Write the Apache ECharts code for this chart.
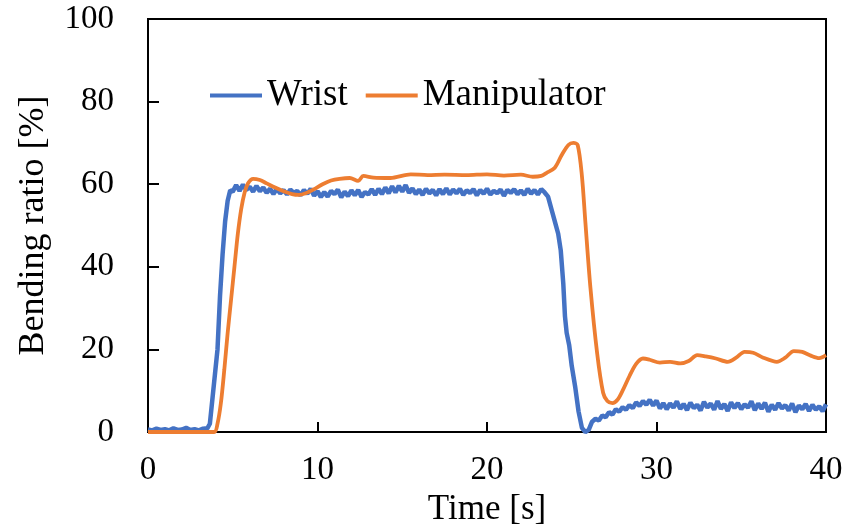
<!DOCTYPE html>
<html><head><meta charset="utf-8">
<script src="https://cdn.jsdelivr.net/npm/echarts@6/dist/echarts.min.js"></script>
<style>html,body{margin:0;padding:0;background:#fff}#c{width:853px;height:525px}</style>
</head><body><div id="c"></div>
<script>
const seriesNames = ['Wrist', 'Manipulator'];
const xTicks = [0, 10, 20, 30, 40];
const yTicks = [0, 20, 40, 60, 80, 100];

const wristTime = [0,0.25,0.5,0.75,1,1.25,1.5,1.75,2,2.25,2.5,2.75,3,3.25,3.5,3.65,3.8,3.95,4.1,4.25,4.4,4.55,4.7,4.85,
5,5.2,5.4,5.6,5.8,6,6.2,6.4,6.6,6.8,7,7.2,7.4,7.6,7.8,8,8.2,8.4,8.6,8.8,9,9.2,9.4,9.6,9.8,10,10.2,10.4,10.6,10.8,11,11.2,11.4,11.6,11.8,12,12.2,12.4,12.6,12.8,13,13.2,13.4,13.6,13.8,14,14.2,14.4,14.6,14.8,15,15.2,15.4,15.6,15.8,16,16.2,16.4,16.6,16.8,17,17.2,17.4,17.6,17.8,18,18.2,18.4,18.6,18.8,19,19.2,19.4,19.6,19.8,20,20.2,20.4,20.6,20.8,21,21.2,21.4,21.6,21.8,22,22.2,22.4,22.6,22.8,23,23.2,23.4,
23.6,23.8,24,24.2,24.35,24.5,24.6,24.7,24.85,25,25.2,25.4,25.6,25.8,26,26.2,26.4,26.6,26.8,27,27.2,27.4,27.6,27.8,28,28.2,28.4,28.6,28.8,29,29.2,29.4,29.6,29.8,30,30.2,30.4,30.6,30.8,31,31.2,31.4,31.6,31.8,32,32.2,32.4,32.6,32.8,33,33.2,33.4,33.6,33.8,34,34.2,34.4,34.6,34.8,35,35.2,35.4,35.6,35.8,36,36.2,36.4,36.6,36.8,37,37.2,37.4,37.6,37.8,38,38.2,38.4,38.6,38.8,39,39.2,39.4,39.6,39.8,40];
const wristValue = [0.6,0.4,0.8,0.5,0.7,0.4,0.9,0.5,0.6,1.0,0.5,0.7,0.4,0.8,0.9,2,8,14,20,33,43,51,56,58.5,
58.2,59.8,58.4,59.9,58.6,59.4,58.2,59.6,58.3,59.2,57.9,58.9,57.6,58.9,57.8,58.6,57.5,58.7,57.9,58.4,57.3,58.6,57.7,58.9,57.2,58.3,56.9,58.1,57.0,58.4,57.6,58.7,56.8,58.2,57.1,58.5,57.3,58.6,56.9,58.1,57.5,58.8,57.4,58.9,57.6,59.2,57.8,59.5,58.0,59.6,58.2,59.8,57.9,59.0,57.6,58.7,57.4,58.9,57.8,58.6,57.3,58.8,57.6,59.0,57.5,58.7,57.8,58.9,57.4,58.5,57.9,58.8,57.3,58.6,57.7,58.9,57.5,58.4,57.8,58.7,57.2,58.6,57.9,58.8,57.6,58.5,57.4,58.9,57.7,58.6,57.5,58.8,58.0,
57,54,51,48,44,36,28,24,21,16,11,5,1,0,0.5,2.5,3.2,2.8,4.0,3.6,4.8,4.2,5.5,4.9,6.0,5.4,6.5,5.8,7.2,6.3,7.5,6.6,7.8,6.4,7.6,5.7,7.0,5.5,6.9,5.9,7.4,5.6,6.8,5.3,7.1,5.8,6.6,5.2,7.3,5.9,6.9,5.4,7.5,5.6,6.8,5.1,7.2,5.8,7.0,5.5,6.7,5.9,7.4,5.3,6.9,5.6,7.1,4.9,6.6,5.4,7.0,5.7,6.5,5.2,6.9,4.8,6.4,5.5,6.8,5.1,6.6,5.4,6.2,5.0,6.7,5.3,6.9];

const manipTime = [0,3.9,4.1,4.3,4.5,4.7,4.9,5.1,5.3,5.5,5.7,5.9,6.2,6.6,7.0,7.5,8.0,8.5,8.9,9.3,9.8,10.3,10.8,11.3,11.9,12.4,12.7,13.3,14.3,15.5,16.5,17.5,18.8,20,21,22,22.7,23.2,23.5,24.0,24.4,24.8,25.1,25.35,25.6,25.8,26.1,26.5,26.85,27.1,27.4,27.7,28.0,28.4,28.8,29.2,29.6,30.2,30.8,31.4,31.9,32.4,32.9,33.5,34.2,34.7,35.2,35.7,36.3,37.1,37.6,38.1,38.6,39.1,39.6,40];
const manipValue = [0,0,2,7,15,24,32,40,48,54,58,60.2,61.3,61.0,60.2,59.2,58.3,57.6,57.4,57.8,58.8,60.0,60.9,61.3,61.5,60.8,62.0,61.6,61.5,62.4,62.2,62.3,62.2,62.4,62.1,62.3,61.8,62.0,62.7,64,67,69.5,70,69.5,62,51,35,19,9.5,7.5,7.0,7.8,10,13.5,16.5,17.8,17.5,16.8,17.0,16.6,17.2,18.6,18.3,17.8,17.0,18.0,19.4,19.2,18.0,17.0,18.0,19.6,19.4,18.5,17.9,18.6];

const zip = (t, v) => t.map((x, i) => [x, v[i]]);
const font = '"Liberation Serif", "Times New Roman", serif';
const chart = echarts.init(document.getElementById('c'));
chart.setOption({
  animation: false,
  backgroundColor: '#fff',
  textStyle: { fontFamily: font, color: '#000' },
  legend: {
    left: 205, top: 72, itemGap: 18, itemWidth: 52, itemHeight: 4, icon: 'rect',
    textStyle: { fontFamily: font, fontSize: 37, color: '#000' },
    data: seriesNames
  },
  grid: { left: 148, right: 27, top: 19, bottom: 93, show: true, borderColor: '#000', borderWidth: 2,
          containLabel: false, outerBoundsMode: 'none' },
  xAxis: {
    type: 'value', min: xTicks[0], max: xTicks[xTicks.length - 1], interval: 10,
    name: 'Time [s]', nameLocation: 'middle', nameGap: 56,
    nameTextStyle: { fontFamily: font, fontSize: 35, color: '#000' },
    axisLine: { show: true, lineStyle: { color: '#000', width: 2 } },
    axisTick: { show: true, inside: true, length: 10, lineStyle: { color: '#000', width: 2 } },
    axisLabel: { fontFamily: font, fontSize: 33, color: '#000', margin: 22 },
    splitLine: { show: false }
  },
  yAxis: {
    type: 'value', min: yTicks[0], max: yTicks[yTicks.length - 1], interval: 20,
    name: 'Bending ratio [%]', nameLocation: 'middle', nameGap: 96,
    nameTextStyle: { fontFamily: font, fontSize: 36, color: '#000' },
    axisLine: { show: true, lineStyle: { color: '#000', width: 2 } },
    axisTick: { show: true, inside: true, length: 11, lineStyle: { color: '#000', width: 2 } },
    axisLabel: { fontFamily: font, fontSize: 33, color: '#000', margin: 34 },
    splitLine: { show: false }
  },
  series: [
    { name: seriesNames[0], type: 'line', symbol: 'none', data: zip(wristTime, wristValue),
      lineStyle: { color: '#4472C4', width: 4.5 }, itemStyle: { color: '#4472C4' } },
    { name: seriesNames[1], type: 'line', symbol: 'none', data: zip(manipTime, manipValue), smooth: 0.3,
      lineStyle: { color: '#ED7D31', width: 3.8 }, itemStyle: { color: '#ED7D31' } }
  ]
});
</script></body></html>
